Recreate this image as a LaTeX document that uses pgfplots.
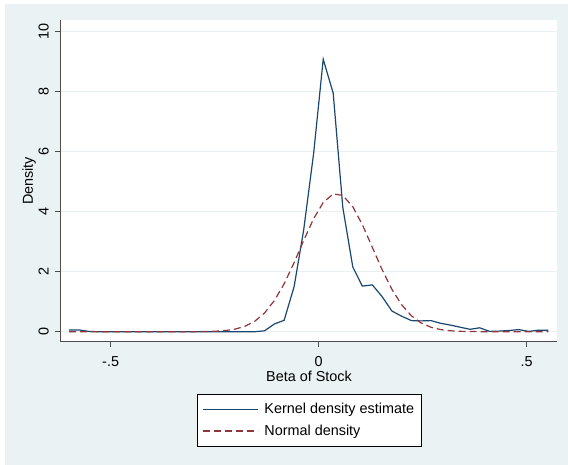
\documentclass[border=0pt]{standalone}
\usepackage{fontspec}
\setmainfont{Liberation Sans}
\usepackage{pgfplots}
\pgfplotsset{compat=1.18}
\definecolor{bgc}{RGB}{234,242,243}
\definecolor{gridc}{RGB}{232,240,242}
\definecolor{navyc}{RGB}{26,71,111}
\definecolor{maroonc}{RGB}{144,53,59}
\newcommand{\ff}{\fontsize{14.4}{17}\selectfont}
\begin{document}
\begin{tikzpicture}[x=1pt,y=1pt]
\useasboundingbox (0,0) rectangle (568,465);
\fill[bgc] (5,0) rectangle (568,461);
\begin{axis}[
  at={(60.7pt,123.3pt)}, anchor=south west,
  scale only axis, width=496.6pt, height=321.7pt,
  xmin=-0.62, xmax=0.5736, ymin=-0.333, ymax=10.39,
  axis background/.style={fill=white},
  axis x line*=bottom, axis y line*=left,
  axis line style={-, black!70, line width=0.9pt},
  xtick={-0.5,0,0.5}, xticklabels={-.5,0,.5},
  ytick={0,2,4,6,8,10},
  tick align=outside, major tick length=5.7pt,
  tick style={black!70, line width=0.9pt},
  ymajorgrids, grid style={gridc, line width=1.2pt},
  /pgf/number format/assume math mode=true,
  every tick label/.append style={font=\ff},
  xticklabel style={anchor=base, inner sep=0pt},
  xticklabel shift=19.1pt,
  yticklabel style={rotate=90, anchor=base, inner sep=0pt},
  yticklabel shift=6.5pt,
  xlabel={Beta of Stock},
  xlabel style={at={(axis description cs:0.5,-0.12434)}, anchor=base, inner sep=0pt, font=\ff},
  ylabel={Density},
  ylabel style={at={(axis description cs:-0.05578,0.5)}, anchor=base, inner sep=0pt, font=\ff},
  legend style={at={(0.5,-0.1626)}, anchor=north, draw=black, line width=0.6pt, fill=white,
    font=\ff, inner xsep=5pt, inner ysep=7pt, row sep=5.7pt,
    nodes={inner sep=2pt}},
  legend cell align=left,
  legend image code/.code={\draw[#1] (0pt,0pt) -- (55pt,0pt); \path (59.3pt,0pt);},
]
\addplot[navyc, line width=1.2pt] coordinates {
(-0.600,0.06) (-0.576,0.06) (-0.553,0.01) (-0.529,0.00) (-0.506,0.00)
(-0.482,0.00) (-0.459,0.00) (-0.435,0.00) (-0.412,0.00) (-0.388,0.00)
(-0.365,0.00) (-0.341,0.00) (-0.318,0.00) (-0.294,0.00) (-0.271,0.00)
(-0.247,0.00) (-0.224,0.00) (-0.200,0.00) (-0.177,0.00) (-0.153,0.00)
(-0.130,0.03) (-0.106,0.26) (-0.083,0.38) (-0.059,1.50) (-0.036,3.39)
(-0.012,5.95) (0.011,9.08) (0.035,7.95) (0.058,4.15) (0.082,2.16)
(0.105,1.52) (0.129,1.56) (0.152,1.18) (0.176,0.69) (0.199,0.52)
(0.223,0.37) (0.246,0.36) (0.270,0.37) (0.293,0.28) (0.317,0.22)
(0.340,0.15) (0.364,0.08) (0.387,0.13) (0.411,0.01) (0.434,0.02)
(0.458,0.04) (0.481,0.07) (0.505,0.01) (0.528,0.05) (0.552,0.05)
};
\addlegendentry{Kernel density estimate\hspace{5pt}}
\addplot[maroonc, line width=1.2pt, dash pattern=on 7pt off 4pt] coordinates {
(-0.600,0.00) (-0.576,0.00) (-0.553,0.00) (-0.529,0.00) (-0.506,0.00)
(-0.482,0.00) (-0.459,0.00) (-0.435,0.00) (-0.412,0.00) (-0.388,0.00)
(-0.365,0.00) (-0.341,0.00) (-0.318,0.00) (-0.294,0.002) (-0.271,0.006)
(-0.247,0.017) (-0.224,0.039) (-0.200,0.089) (-0.177,0.182) (-0.153,0.354)
(-0.130,0.624) (-0.106,1.046) (-0.083,1.596) (-0.059,2.301) (-0.036,3.040)
(-0.012,3.768) (0.011,4.307) (0.035,4.592) (0.058,4.543) (0.082,4.166)
(0.105,3.567) (0.129,2.814) (0.152,2.085) (0.176,1.414) (0.199,0.907)
(0.223,0.529) (0.246,0.294) (0.270,0.148) (0.293,0.071) (0.317,0.031)
(0.340,0.013) (0.364,0.005) (0.387,0.002) (0.411,0.00) (0.434,0.00)
(0.458,0.00) (0.481,0.00) (0.505,0.00) (0.528,0.00) (0.552,0.00)
};
\addlegendentry{Normal density\hspace{5pt}}
\end{axis}
\end{tikzpicture}
\end{document}
